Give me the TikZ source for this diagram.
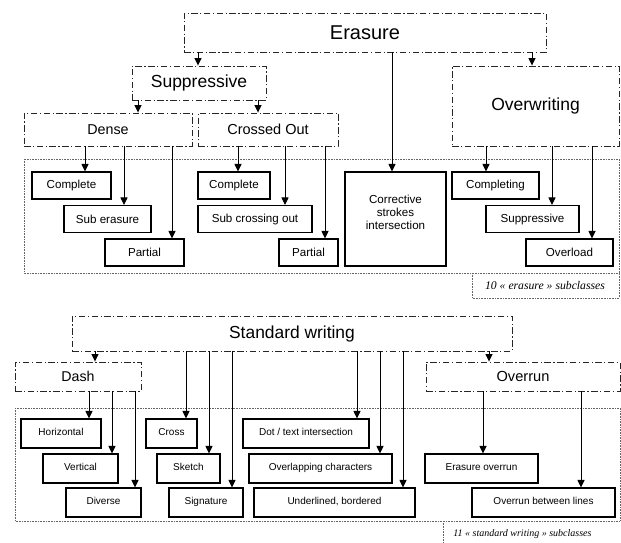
\documentclass[tikz,border=0pt]{standalone}
\usepackage{fontspec}
\setmainfont{Liberation Sans}
\newfontfamily\labelfont{Liberation Serif}
\usetikzlibrary{arrows.meta}
\begin{document}
\begin{tikzpicture}[x=1pt,y=-1pt,
  catbox/.style={draw=black!85, line width=0.9pt, dash pattern=on 6.5pt off 2.5pt on 1.2pt off 2.5pt, inner sep=0pt},
  leafbox/.style={draw=black, line width=1.05pt, inner sep=0pt},
  topleaf/.style={leafbox, minimum height=27pt, font=\fontsize{11.6}{13}\selectfont},
  botleaf/.style={leafbox, minimum height=29pt, font=\fontsize{10}{12}\selectfont, text height=7.5pt, text depth=4pt},
  arr/.style={draw=black, line width=0.9pt, -{Triangle[width=7pt,length=7.5pt]}},
  dotbox/.style={draw=black!60, line width=0.7pt, dash pattern=on 0.8pt off 0.8pt},
  sublabel/.style={inner sep=0pt}
]
\useasboundingbox (0,0) rectangle (621,542);

% ---------------- Erasure part ----------------
\draw[dotbox] (24,159) rectangle (619,273);
\draw[dotbox] (472,273) -- (472,298) -- (619,298) -- (619,273);
\node[sublabel, font=\labelfont\itshape\fontsize{11.7}{13}\selectfont] (lab1) at (545,285.5) {10 « erasure » subclasses};

\node[catbox, minimum width=362pt, minimum height=39pt, font=\fontsize{20}{22}\selectfont] (erasure) at (365,32.5) {Erasure};
\node[catbox, minimum width=134pt, minimum height=34pt, font=\fontsize{17.5}{20}\selectfont] (suppr) at (199,83) {Suppressive};
\node[catbox, minimum width=168pt, minimum height=33pt, font=\fontsize{14.3}{16}\selectfont] (dense) at (108,129.5) {Dense};
\node[catbox, minimum width=140pt, minimum height=33pt, font=\fontsize{14.5}{16}\selectfont] (crossed) at (268,129.5) {Crossed Out};
\node[catbox, minimum width=167pt, minimum height=80pt, font=\fontsize{17.5}{20}\selectfont] (overw) at (535.5,106) {Overwriting};

\node[topleaf, minimum width=79pt] (d1) at (71.5,185.5) {Complete};
\node[topleaf, minimum width=87pt] (d2) at (107.5,219) {Sub erasure};
\node[topleaf, minimum width=79pt] (d3) at (144.5,252.5) {Partial};
\node[topleaf, minimum width=72pt] (c1) at (234,185.5) {Complete};
\node[topleaf, minimum width=114pt] (c2) at (255,219) {Sub crossing out};
\node[topleaf, minimum width=59pt] (c3) at (308.5,252.5) {Partial};
\node[leafbox, minimum width=101pt, minimum height=94pt] (cs) at (395.5,219) {};
\node[inner sep=0pt, align=center, font=\fontsize{11.6}{13}\selectfont] (cstext) at (395.5,212) {Corrective\\strokes\\intersection};
\node[topleaf, minimum width=87pt] (o1) at (495.5,185.5) {Completing};
\node[topleaf, minimum width=93pt] (o2) at (532.5,219) {Suppressive};
\node[topleaf, minimum width=87pt] (o3) at (569.5,252.5) {Overload};

\draw[arr] (erasure.south -| 198,0) -- (suppr.north -| 198,0);
\draw[arr] (erasure.south -| 532,0) -- (overw.north -| 532,0);
\draw[arr] (erasure.south -| 392,0) -- (cs.north -| 392,0);
\draw[arr] (suppr.south -| 138,0) -- (dense.north -| 138,0);
\draw[arr] (suppr.south -| 258,0) -- (crossed.north -| 258,0);
\draw[arr] (dense.south -| 85,0) -- (d1.north -| 85,0);
\draw[arr] (dense.south -| 124,0) -- (d2.north -| 124,0);
\draw[arr] (dense.south -| 172,0) -- (d3.north -| 172,0);
\draw[arr] (crossed.south -| 238,0) -- (c1.north -| 238,0);
\draw[arr] (crossed.south -| 285,0) -- (c2.north -| 285,0);
\draw[arr] (crossed.south -| 325,0) -- (c3.north -| 325,0);
\draw[arr] (overw.south -| 486,0) -- (o1.north -| 486,0);
\draw[arr] (overw.south -| 552,0) -- (o2.north -| 552,0);
\draw[arr] (overw.south -| 592,0) -- (o3.north -| 592,0);

% ---------------- Standard writing part ----------------
\draw[dotbox] (15,408) rectangle (620,521);
\draw[dotbox] (443,521) -- (443,545);
\node[sublabel, font=\labelfont\itshape\fontsize{10}{12}\selectfont] (lab2) at (522.5,534) {11 « standard writing » subclasses};

\node[catbox, minimum width=440pt, minimum height=35pt, font=\fontsize{17.4}{20}\selectfont] (sw) at (292,333.5) {Standard writing};
\node[catbox, minimum width=126pt, minimum height=29pt, font=\fontsize{14.2}{16}\selectfont] (dash) at (78,376.5) {Dash};
\node[catbox, minimum width=194pt, minimum height=29pt, font=\fontsize{14.6}{16}\selectfont] (overrun) at (523,376.5) {Overrun};

\node[botleaf, minimum width=80pt] (h1) at (61,433.5) {Horizontal};
\node[botleaf, minimum width=75pt] (h2) at (80.5,468.5) {Vertical};
\node[botleaf, minimum width=75pt] (h3) at (103.5,502.5) {Diverse};
\node[botleaf, minimum width=51pt] (s1) at (171.5,433.5) {Cross};
\node[botleaf, minimum width=63pt] (s2) at (188.5,468.5) {Sketch};
\node[botleaf, minimum width=74pt] (s3) at (206,502.5) {Signature};
\node[botleaf, minimum width=126pt] (t1) at (306,433.5) {Dot / text intersection};
\node[botleaf, minimum width=143pt] (t2) at (320.5,468.5) {Overlapping characters};
\node[botleaf, minimum width=161pt] (t3) at (334.5,502.5) {Underlined, bordered};
\node[botleaf, minimum width=113pt] (r1) at (481.5,468.5) {Erasure overrun};
\node[botleaf, minimum width=143pt] (r2) at (543.5,502.5) {Overrun between lines};

\draw[arr] (sw.south -| 95,0) -- (dash.north -| 95,0);
\draw[arr] (sw.south -| 489,0) -- (overrun.north -| 489,0);
\draw[arr] (dash.south -| 89,0) -- (h1.north -| 89,0);
\draw[arr] (dash.south -| 112,0) -- (h2.north -| 112,0);
\draw[arr] (dash.south -| 135,0) -- (h3.north -| 135,0);
\draw[arr] (sw.south -| 186,0) -- (s1.north -| 186,0);
\draw[arr] (sw.south -| 209,0) -- (s2.north -| 209,0);
\draw[arr] (sw.south -| 232,0) -- (s3.north -| 232,0);
\draw[arr] (sw.south -| 357,0) -- (t1.north -| 357,0);
\draw[arr] (sw.south -| 380,0) -- (t2.north -| 380,0);
\draw[arr] (sw.south -| 403,0) -- (t3.north -| 403,0);
\draw[arr] (overrun.south -| 483,0) -- (r1.north -| 483,0);
\draw[arr] (overrun.south -| 581,0) -- (r2.north -| 581,0);
\end{tikzpicture}
\end{document}
